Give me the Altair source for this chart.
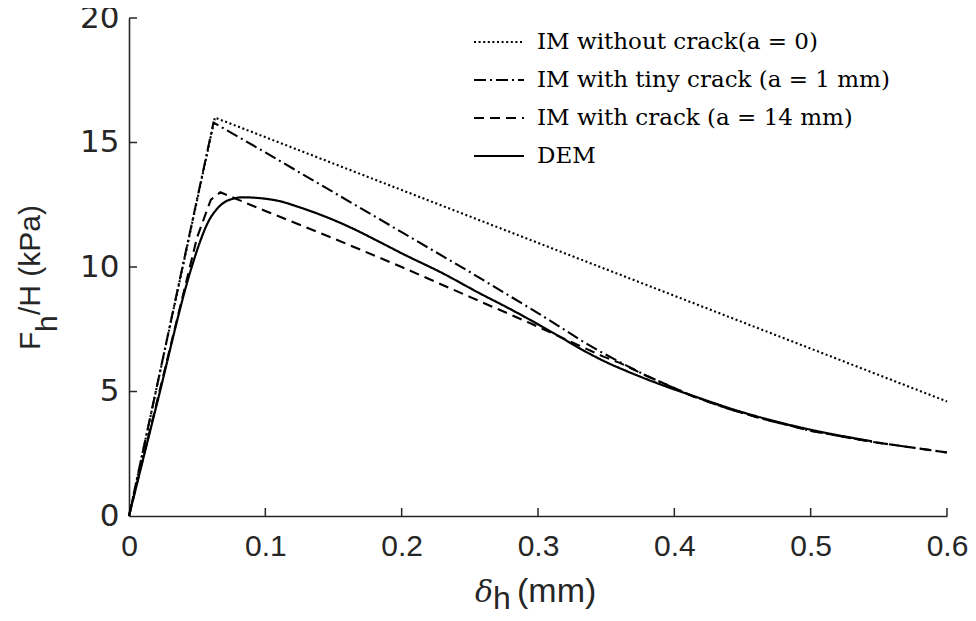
import altair as alt
import pandas as pd

# ---------------- data ----------------
series_names = [
    "IM without crack(a = 0)",
    "IM with tiny crack (a = 1 mm)",
    "IM with crack (a = 14 mm)",
    "DEM",
]

im_nocrack_x = [0, 0.063, 0.6]
im_nocrack_y = [0, 16.0, 4.6]

im_tiny_x = [0, 0.062, 0.1, 0.15, 0.2, 0.25, 0.3, 0.316, 0.331, 0.345, 0.36, 0.38,
             0.414, 0.44, 0.463, 0.5, 0.546, 0.6]
im_tiny_y = [0, 15.8, 14.6, 13.0, 11.4, 9.8, 8.15, 7.6, 7.07, 6.62, 6.18, 5.62,
             4.8, 4.3, 3.93, 3.42, 2.97, 2.55]

im_crack_x = [0, 0.05, 0.06, 0.067, 0.1, 0.15, 0.2, 0.25, 0.294, 0.316, 0.33, 0.348,
              0.36, 0.38, 0.414, 0.44, 0.463, 0.5, 0.546, 0.6]
im_crack_y = [0, 11.2, 12.7, 13.0, 12.25, 11.15, 10.0, 8.8, 7.75, 7.2, 6.85, 6.4,
              6.15, 5.62, 4.8, 4.3, 3.93, 3.42, 2.97, 2.55]

dem_x = [0, 0.02, 0.046, 0.052, 0.058, 0.064, 0.07, 0.077, 0.083, 0.095, 0.11, 0.125,
         0.145, 0.162, 0.184, 0.2, 0.23, 0.257, 0.28, 0.3, 0.316, 0.33, 0.35, 0.365,
         0.39, 0.414, 0.448, 0.48, 0.51, 0.545]
dem_y = [0, 4.4, 10.0, 11.0, 11.8, 12.3, 12.6, 12.75, 12.8, 12.77, 12.65, 12.4,
         12.0, 11.6, 11.0, 10.55, 9.75, 8.95, 8.3, 7.7, 7.2, 6.75, 6.18, 5.82,
         5.28, 4.82, 4.2, 3.72, 3.35, 3.0]

x_ticks = [0, 0.1, 0.2, 0.3, 0.4, 0.5, 0.6]
y_ticks = [0, 5, 10, 15, 20]

# ---------------- build table ----------------
rows = []
for name, xs, ys in zip(series_names,
                        [im_nocrack_x, im_tiny_x, im_crack_x, dem_x],
                        [im_nocrack_y, im_tiny_y, im_crack_y, dem_y]):
    for i, (a, b) in enumerate(zip(xs, ys)):
        rows.append({"series": name, "x": a, "y": b, "i": i})
df = pd.DataFrame(rows)

W, H = 818, 498
AX = "#262626"

xscale = alt.Scale(domain=[0, 0.6], nice=False, zero=False)
yscale = alt.Scale(domain=[0, 20], nice=False, zero=False)

dash_range = [[2, 2.6], [12, 4, 2, 4], [10, 6], [1, 0]]

x_enc = alt.X("x:Q", scale=xscale,
              axis=alt.Axis(values=x_ticks, format=".1~f", title=None, ticks=False, grid=False,
                            labelFont="Liberation Sans", labelFontSize=30, labelColor=AX,
                            labelPadding=15, labelFlush=False, labelOverlap=False,
                            domainColor=AX, domainWidth=1.6))
y_enc = alt.Y("y:Q", scale=yscale,
              axis=alt.Axis(values=y_ticks, format="d", title=None, ticks=False, grid=False,
                            labelFont="DejaVu Sans", labelFontSize=31, labelColor=AX,
                            labelPadding=10, labelFlush=False, labelOverlap=False,
                            domainColor=AX, domainWidth=1.6))
dash_enc = alt.StrokeDash(
    "series:N",
    scale=alt.Scale(domain=series_names, range=dash_range),
    legend=alt.Legend(
        title=None, orient="none", legendX=344, legendY=-2,
        symbolType="stroke", symbolSize=2500, symbolStrokeWidth=2,
        symbolStrokeColor="black", labelFont="DejaVu Serif", labelFontSize=23,
        labelColor="black", labelOffset=12, rowPadding=0, padding=0,
        labelLimit=500,
    ),
)

im_lines = alt.Chart(df).transform_filter(alt.datum.series != "DEM").mark_line(
    color="black", strokeWidth=2.1
).encode(x=x_enc, y=y_enc, strokeDash=dash_enc, order="i:Q")

dem_line = alt.Chart(df).transform_filter(alt.datum.series == "DEM").mark_line(
    color="black", strokeWidth=2.2, interpolate="monotone"
).encode(x=x_enc, y=y_enc, strokeDash=dash_enc, order="i:Q")

xt_df = pd.DataFrame({"x": x_ticks[1:]})
x_tick_marks = alt.Chart(xt_df).mark_rule(color=AX, strokeWidth=1.5).encode(
    x=alt.X("x:Q", scale=xscale), y=alt.value(H), y2=alt.value(H - 8)
)
yt_df = pd.DataFrame({"y": y_ticks[1:]})
y_tick_marks = alt.Chart(yt_df).mark_rule(color=AX, strokeWidth=1.5).encode(
    y=alt.Y("y:Q", scale=yscale), x=alt.value(0), x2=alt.value(8)
)


def txt(s, x, y, **kw):
    return alt.Chart(pd.DataFrame({"t": [s]})).mark_text(**kw).encode(
        text="t:N", x=alt.value(x), y=alt.value(y)
    )


ytitle_kw = dict(angle=270, align="left", baseline="alphabetic", font="Liberation Sans",
                 fontSize=30, color=AX)
y_title = (
    txt("F", -89, 332, **ytitle_kw)
    + txt("h", -72, 314, **ytitle_kw)
    + txt("/H (kPa)", -89, 297, **ytitle_kw)
)
x_title = (
    txt("δ", 346, 584, align="left", baseline="alphabetic", font="DejaVu Serif",
        fontStyle="italic", fontSize=30, color=AX)
    + txt("h", 364, 591, align="left", baseline="alphabetic", font="Liberation Sans",
          fontSize=32, color=AX)
    + txt("(mm)", 388, 584, align="left", baseline="alphabetic", font="Liberation Sans",
          fontSize=34, color=AX)
)

chart = alt.layer(im_lines, dem_line, x_tick_marks, y_tick_marks, y_title, x_title).properties(
    width=W, height=H,
    autosize=alt.AutoSizeParams(type="none"),
    padding={"left": 121, "top": 10, "right": 21, "bottom": 97},
).configure_view(stroke=None)

chart.save("out.html", embed_options={"renderer": "svg", "actions": False})
